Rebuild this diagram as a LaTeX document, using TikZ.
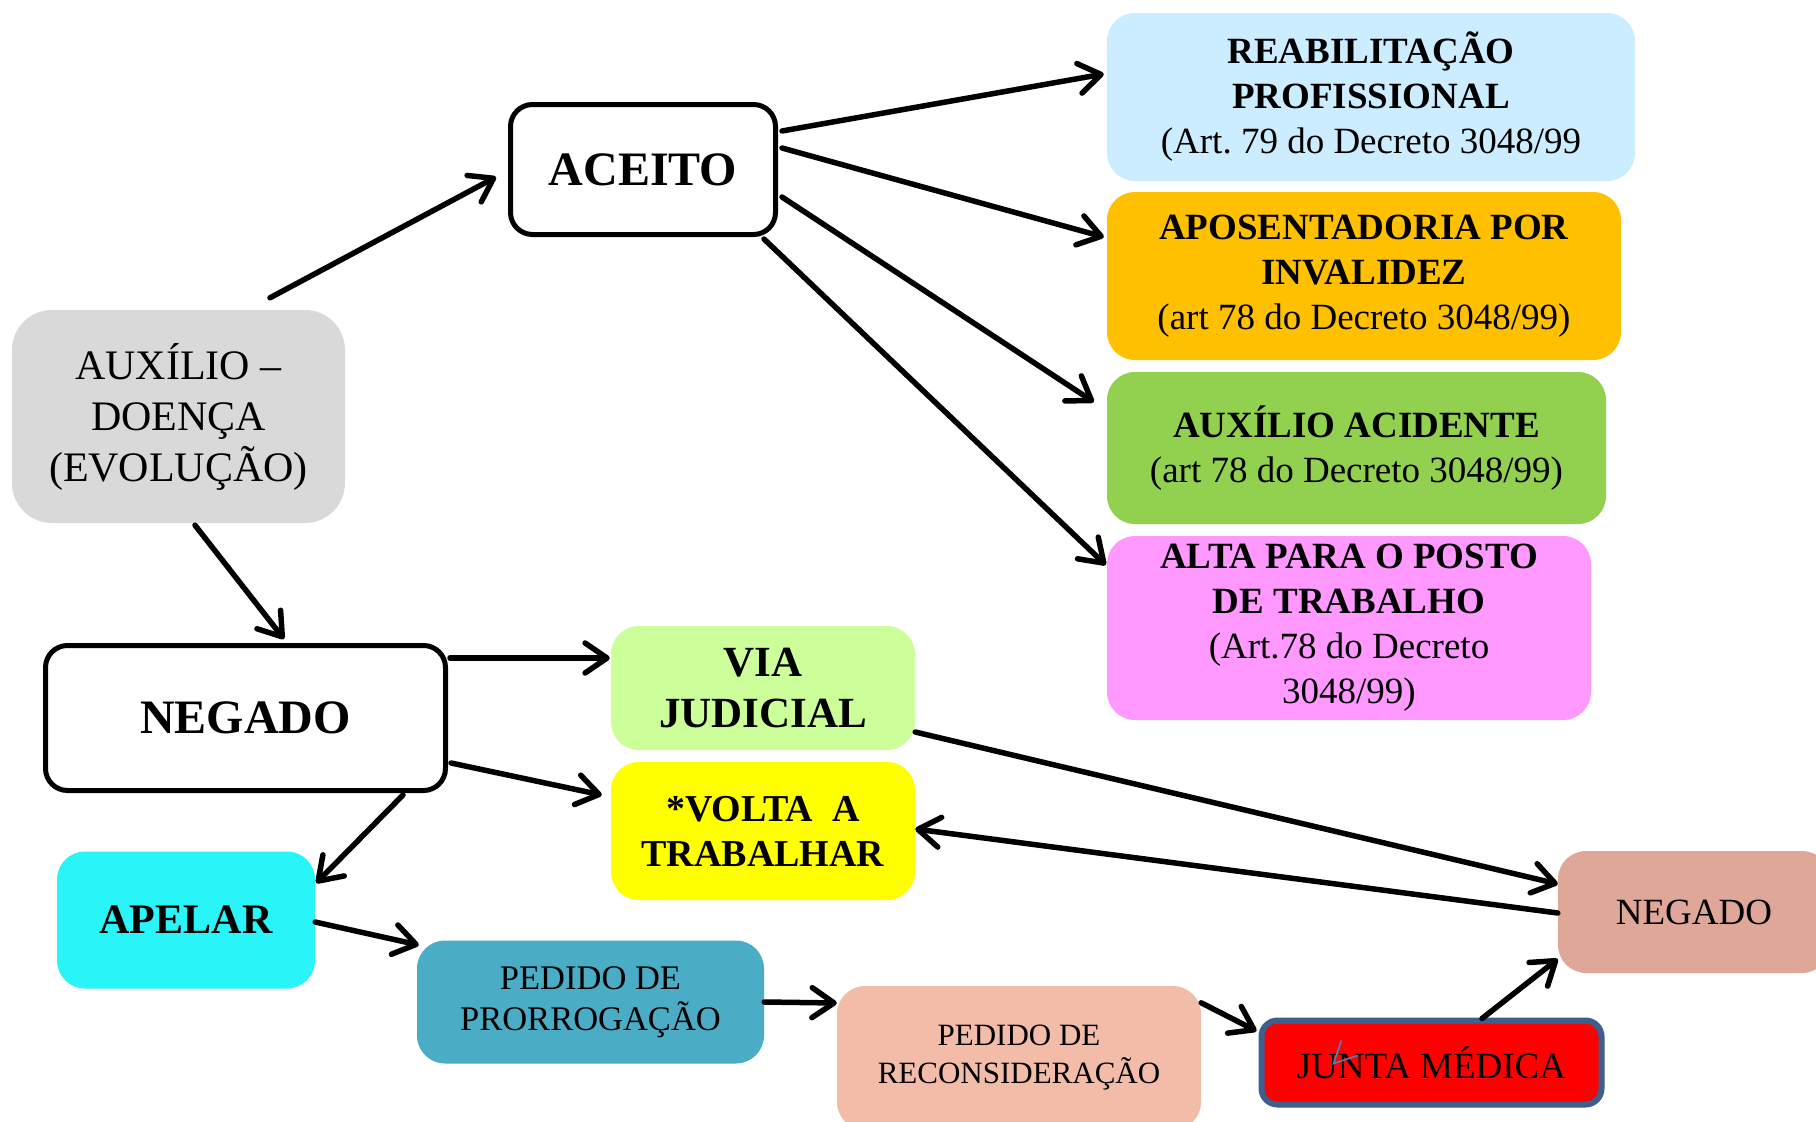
\documentclass[tikz,border=0pt]{standalone}
\usepackage{fontspec}
\setmainfont{Liberation Serif}
\frenchspacing
\usetikzlibrary{arrows.meta,calc}
\definecolor{cgray}{HTML}{D9D9D9}
\definecolor{creab}{HTML}{CCECFF}
\definecolor{capos}{HTML}{FFC000}
\definecolor{cauxac}{HTML}{92D050}
\definecolor{calta}{HTML}{FF99FF}
\definecolor{cvia}{HTML}{CCFF99}
\definecolor{cvolta}{HTML}{FFFF00}
\definecolor{capelar}{HTML}{29F5F8}
\definecolor{cprorrog}{HTML}{4BACC6}
\definecolor{crecons}{HTML}{F2BCA9}
\definecolor{cnegr}{HTML}{DFA798}
\definecolor{cjuntab}{HTML}{3D5F8E}
\definecolor{cartif}{HTML}{4F81BD}
\tikzset{
  box/.style={rounded corners=28pt, inner sep=0pt, align=center, text=black},
  outl/.style={box, draw=black, line width=5pt, fill=white, rounded corners=22pt},
  conn/.style={line width=5.5pt, line cap=round, line join=round,
    -{Straight Barb[length=22pt,width=30pt,round]}},
  rfont/.style={font=\fontsize{37}{45}\selectfont}
}
\begin{document}
\begin{tikzpicture}[x=1pt,y=-1pt]
\clip (0,0) rectangle (1816,1122);
\fill[white] (0,0) rectangle (1816,1122);

% nodes
\node[box, fill=cgray, minimum width=333pt, minimum height=213pt, rounded corners=40pt,
  font=\fontsize{42}{51}\selectfont] (aux) at (178.5,416.5) {AUXÍLIO –\\DOENÇA\\(EVOLUÇÃO)};
\node[outl, minimum width=265pt, minimum height=130pt,
  font=\fontsize{48}{58}\selectfont\bfseries] (aceito) at (643,169.5) {ACEITO};
\node[box, fill=creab, minimum width=528pt, minimum height=168pt, rfont] (reab) at (1371,97)
  {\textbf{REABILITAÇÃO}\\\textbf{PROFISSIONAL}\\(Art. 79 do Decreto 3048/99};
\node[box, fill=capos, minimum width=514pt, minimum height=168pt, rfont] (apos) at (1364,276)
  {\textbf{APOSENTADORIA POR}\\\textbf{INVALIDEZ}\\(art 78 do Decreto 3048/99)};
\node[box, fill=cauxac, minimum width=499pt, minimum height=152pt, rfont] (auxac) at (1356.5,448)
  {\textbf{AUXÍLIO ACIDENTE}\\(art 78 do Decreto 3048/99)};
\node[box, fill=calta, minimum width=484pt, minimum height=184pt, rfont] (alta) at (1349,628)
  {\textbf{ALTA PARA O POSTO}\\\textbf{DE TRABALHO}\\(Art.78 do Decreto\\3048/99)};
\node[outl, minimum width=400pt, minimum height=145pt,
  font=\fontsize{48}{58}\selectfont\bfseries] (negado) at (245.5,718) {NEGADO};
\node[box, fill=cvia, minimum width=304pt, minimum height=124pt,
  font=\fontsize{43}{51}\selectfont\bfseries] (via) at (763,688) {VIA\\JUDICIAL};
\node[box, fill=cvolta, minimum width=304pt, minimum height=138pt,
  font=\fontsize{38}{45}\selectfont\bfseries] (volta) at (763,831) {*VOLTA~~A\\TRABALHAR};
\node[box, fill=capelar, minimum width=258pt, minimum height=137pt,
  font=\fontsize{42}{50}\selectfont\bfseries] (apelar) at (186,920) {APELAR};
\node[box, fill=cprorrog, minimum width=347pt, minimum height=123pt,
  font=\fontsize{34.5}{40.5}\selectfont] (prorrog) at (590.5,1002) {PEDIDO DE\\PRORROGAÇÃO};
\node[box, fill=crecons, minimum width=364pt, minimum height=144pt,
  font=\fontsize{31}{38}\selectfont] (recons) at (1019,1058) {PEDIDO DE\\RECONSIDERAÇÃO};
\node[box, fill=red, draw=cjuntab, line width=6pt, rounded corners=16pt,
  minimum width=340pt, minimum height=84pt, rfont] (junta) at (1431.5,1062.5) {JUNTA MÉDICA};
\node[box, fill=cnegr, minimum width=272pt, minimum height=122pt, rfont] (negr) at (1694,912) {NEGADO};

% small blue mark inside JUNTA
\draw[cartif, line width=1.6pt] ($(junta.center)+(-90,-22)$) coordinate (am1) -- ($(junta.center)+(-98,1)$) coordinate (am2) -- ($(junta.center)+(-74,-7)$) coordinate (am3);

% connectors
\draw[conn] ($(aux.north)+(91.5,-12)$) -- ($(aceito.west)+(-12,7.5)$);
\draw[conn] ($(aceito.east)+(4,-38.5)$) -- ($(reab.west)+(-3,-23)$);
\draw[conn] ($(aceito.east)+(4,-21.5)$) -- ($(apos.west)+(-3,-39)$);
\draw[conn] ($(aceito.east)+(4,27.5)$) -- ($(auxac.west)+(-13,-46)$);
\draw[conn] ($(aceito.south east)+(-14,2)$) -- ($(alta.west)+(-1,-63)$);
\draw[conn] ($(aux.south)+(16.5,2)$) -- ($(negado.north)+(38.5,-4)$);
\draw[conn] ($(negado.east)+(2,-60)$) -- ($(via.west)+(-1,-30)$);
\draw[conn] ($(negado.east)+(3,45)$) -- ($(volta.west)+(-9,-36)$);
\draw[conn] ($(negado.south)+(157.5,2)$) -- ($(apelar.east)+(1,-37)$);
\draw[conn] ($(apelar.east)+(0,2)$) -- ($(prorrog.west)+(2,-57)$);
\draw[conn] (prorrog.east) -- ($(recons.west)+(0,-55)$);
\draw[conn] ($(recons.north east)+(0,17)$) -- ($(junta.west)+(-2,-31.5)$);
\draw[conn] ($(junta.north)+(50.5,1)$) -- ($(negr.west)+(0,47)$);
\draw[conn] ($(via.east)+(0,44)$) -- ($(negr.west)+(0,-28)$);
\draw[conn] ($(negr.west)+(0,1)$) -- ($(volta.east)+(0,-2)$);
\end{tikzpicture}
\end{document}
